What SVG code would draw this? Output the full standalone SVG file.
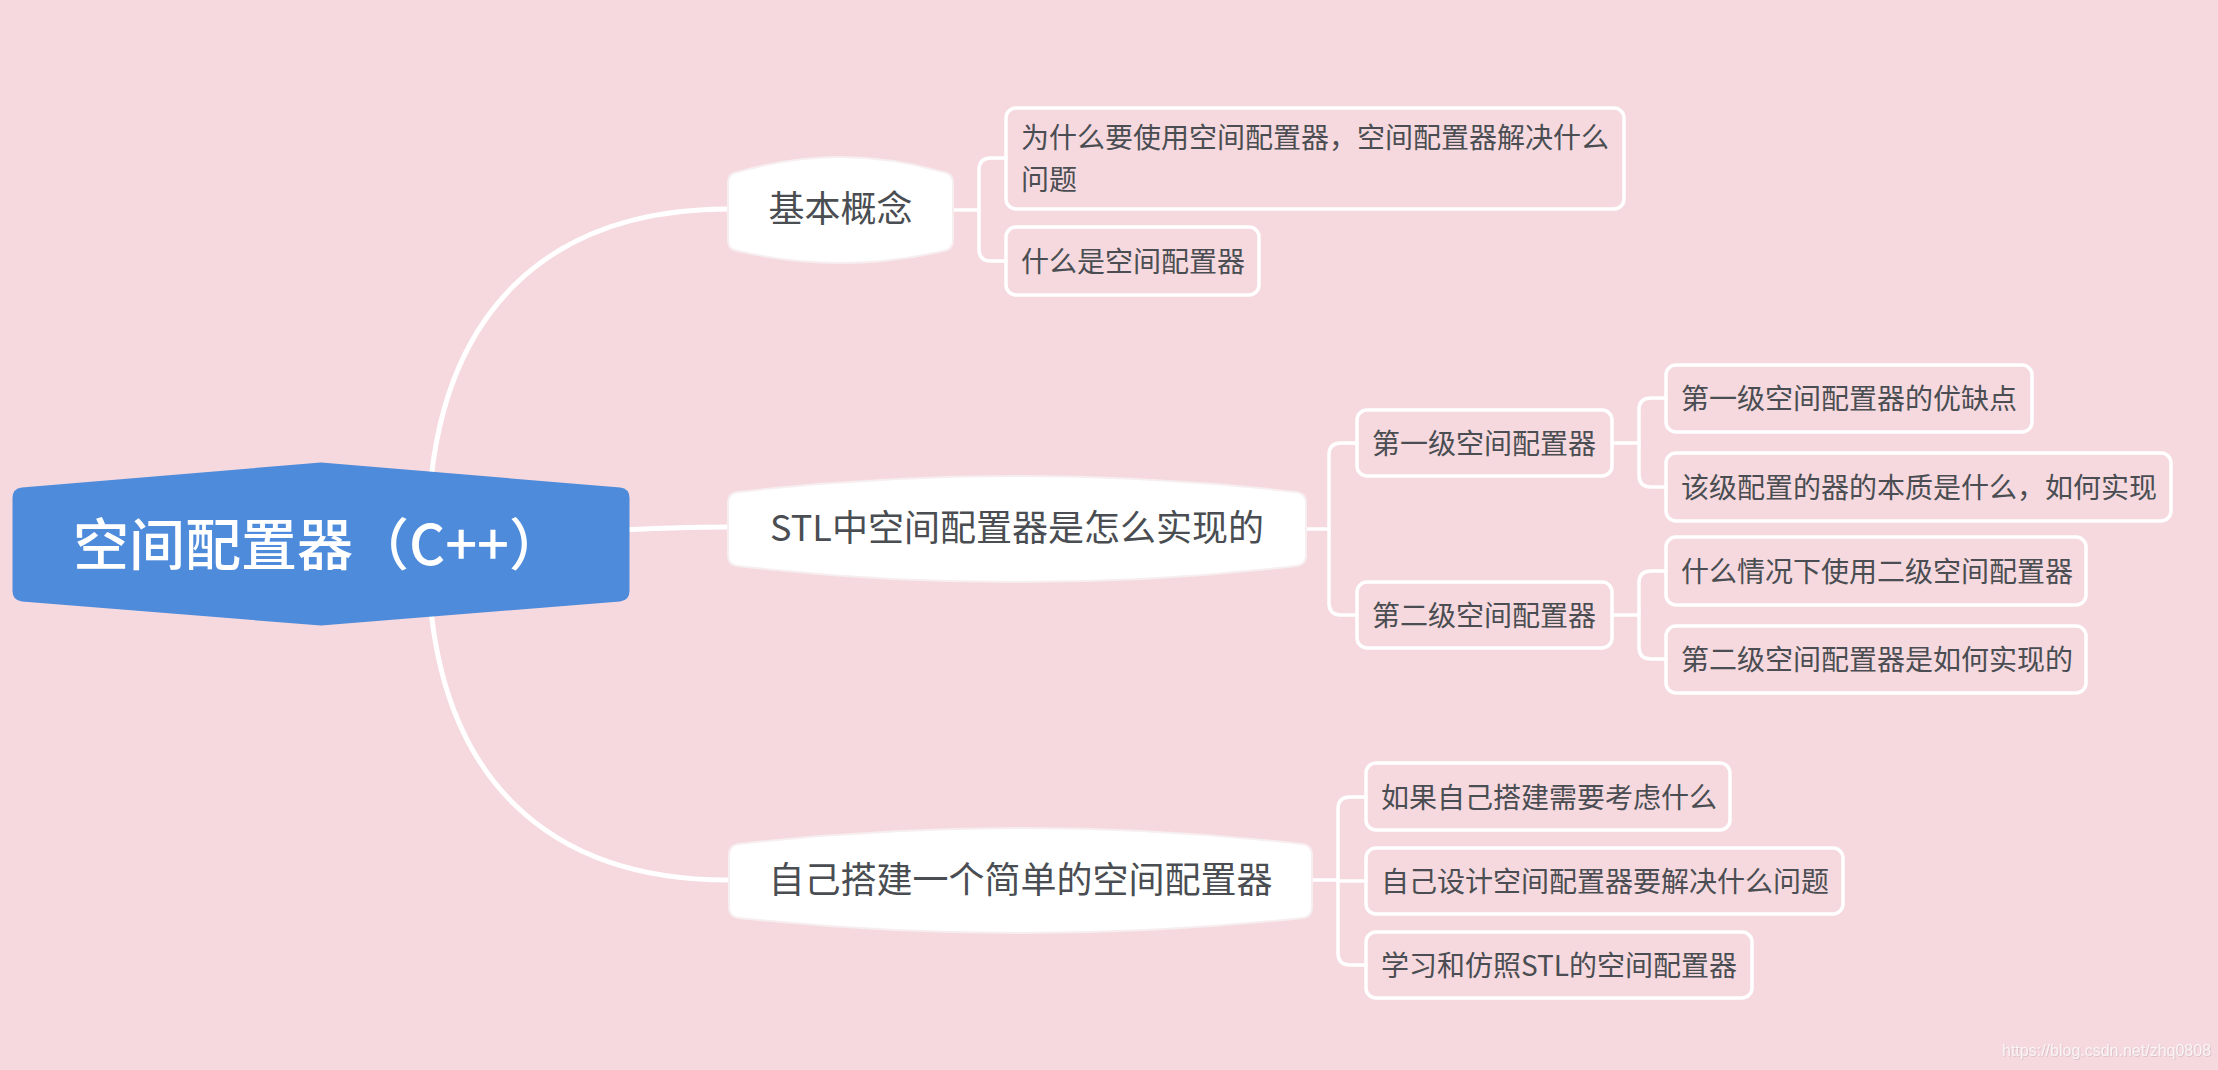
<svg xmlns="http://www.w3.org/2000/svg" width="2218" height="1070" viewBox="0 0 2218 1070">
<style>
.bg{fill:#F5D9DE}
.conn{fill:none;stroke:#FFFFFF;stroke-width:5;stroke-linecap:round}
.br{fill:none;stroke:#FFFFFF;stroke-width:3.5;stroke-linecap:round;stroke-linejoin:round}
.main{fill:#FFFFFF;stroke:#F7EEF0;stroke-width:2}
.leaf{fill:none;stroke:#FFFFFF;stroke-width:3.5}
.t{font-family:"Noto Sans CJK SC","Noto Sans",sans-serif;fill:#4A4D52}
.mt{font-size:36px;text-anchor:middle}
.lt{font-size:28px}
.rt{font-family:"Noto Sans CJK SC","Noto Sans",sans-serif;font-size:56px;font-weight:500;fill:#FFFFFF}
.wm{font-family:"Liberation Sans",Arial,sans-serif;font-size:16px;fill:#FFFFFF;fill-opacity:0.75}
</style>
<defs>
<filter id="sh" x="-5%" y="-30%" width="110%" height="160%">
<feDropShadow dx="0.8" dy="0.8" stdDeviation="0.6" flood-color="#9a8a8d" flood-opacity="0.45"/>
</filter>
</defs>
<rect class="bg" x="0" y="0" width="2218" height="1070"/>

<g id="connectors">
<path class="conn" d="M428,540 C428,300 560,209 728,209"/>
<path class="conn" d="M600,531 Q680,527 728,527"/>
<path class="conn" d="M428,550 C428,790 560,880 728,880"/>
<path class="br" d="M953,210 H979"/>
<path class="br" d="M1006,158 H991 Q979,158 979,170 V249 Q979,261 991,261 H1006"/>
<path class="br" d="M1306,529 H1329"/>
<path class="br" d="M1357,443 H1341 Q1329,443 1329,455 V603 Q1329,615 1341,615 H1357"/>
<path class="br" d="M1612,443 H1639"/>
<path class="br" d="M1666,398 H1651 Q1639,398 1639,410 V475 Q1639,487 1651,487 H1666"/>
<path class="br" d="M1612,615 H1639"/>
<path class="br" d="M1666,571 H1651 Q1639,571 1639,583 V647 Q1639,659 1651,659 H1666"/>
<path class="br" d="M1312,880 H1338"/>
<path class="br" d="M1366,797 H1350 Q1338,797 1338,809 V953 Q1338,965 1350,965 H1366"/>
<path class="br" d="M1338,881 H1366"/>
</g>

<g id="root">
<path d="M14,498 Q14,490 22,489 L321,464 L620,489 Q628,490 628,498 L628,591 Q628,599 620,600 L321,624 L22,600 Q14,599 14,591 Z" fill="#4E8BDB" stroke="#4E8BDB" stroke-width="3" stroke-linejoin="round"/>
<text class="rt" x="73" y="565">空间配置器（C++）</text>
</g>

<g id="n-basic">
<path class="main" d="M728,183 Q728,173 738,172 Q840.5,142 943,172 Q953,173 953,183 L953,240 Q953,250 943,251 Q840.5,275 738,251 Q728,250 728,240 Z"/>
<text class="t mt" x="840.5" y="222">基本概念</text>
</g>
<g id="n-why">
<rect class="leaf" x="1006" y="108" width="618" height="101" rx="10"/>
<text class="t lt"><tspan x="1021" y="148">为什么要使用空间配置器，空间配置器解决什么</tspan><tspan x="1021" y="189.5">问题</tspan></text>
</g>
<g id="n-what">
<rect class="leaf" x="1006" y="227" width="253" height="68" rx="10"/>
<text class="t lt" x="1021" y="272">什么是空间配置器</text>
</g>

<g id="n-stl">
<path class="main" d="M728,503 Q728,493 738,492 Q1017,460 1296,492 Q1306,493 1306,503 L1306,555 Q1306,565 1296,566 Q1017,598 738,566 Q728,565 728,555 Z"/>
<text class="t mt" x="1017" y="541">STL中空间配置器是怎么实现的</text>
</g>
<g id="n-l1">
<rect class="leaf" x="1357" y="410" width="255" height="66" rx="10"/>
<text class="t lt" x="1372" y="454">第一级空间配置器</text>
</g>
<g id="n-l1a">
<rect class="leaf" x="1666" y="365" width="366" height="67" rx="10"/>
<text class="t lt" x="1681" y="409">第一级空间配置器的优缺点</text>
</g>
<g id="n-l1b">
<rect class="leaf" x="1666" y="453" width="505" height="68" rx="10"/>
<text class="t lt" x="1681" y="498">该级配置的器的本质是什么，如何实现</text>
</g>
<g id="n-l2">
<rect class="leaf" x="1357" y="582" width="255" height="66" rx="10"/>
<text class="t lt" x="1372" y="626">第二级空间配置器</text>
</g>
<g id="n-l2a">
<rect class="leaf" x="1666" y="537" width="420" height="68" rx="10"/>
<text class="t lt" x="1681" y="582">什么情况下使用二级空间配置器</text>
</g>
<g id="n-l2b">
<rect class="leaf" x="1666" y="626" width="420" height="67" rx="10"/>
<text class="t lt" x="1681" y="670">第二级空间配置器是如何实现的</text>
</g>

<g id="n-self">
<path class="main" d="M729,855 Q729,845 739,844 Q1020.5,812 1302,844 Q1312,845 1312,855 L1312,907 Q1312,917 1302,918 Q1020.5,948 739,918 Q729,917 729,907 Z"/>
<text class="t mt" x="1020.5" y="893">自己搭建一个简单的空间配置器</text>
</g>
<g id="n-s1">
<rect class="leaf" x="1366" y="763" width="364" height="67" rx="10"/>
<text class="t lt" x="1381" y="808">如果自己搭建需要考虑什么</text>
</g>
<g id="n-s2">
<rect class="leaf" x="1366" y="848" width="477" height="66" rx="10"/>
<text class="t lt" x="1381" y="892">自己设计空间配置器要解决什么问题</text>
</g>
<g id="n-s3">
<rect class="leaf" x="1366" y="932" width="386" height="66" rx="10"/>
<text class="t lt" x="1381" y="976">学习和仿照STL的空间配置器</text>
</g>

<text class="wm" x="2002" y="1056" filter="url(#sh)">https://blog.csdn.net/zhq0808</text>
</svg>
